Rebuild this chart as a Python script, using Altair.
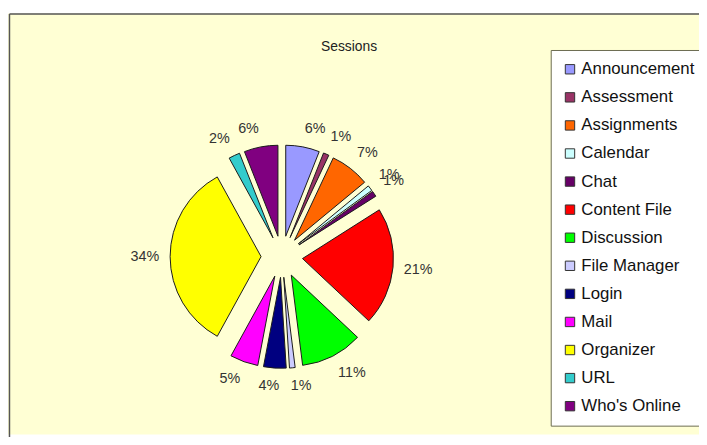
import altair as alt
import pandas as pd

# ---- data ----
categories = ["Announcement", "Assessment", "Assignments", "Calendar", "Chat",
              "Content File", "Discussion", "File Manager", "Login", "Mail",
              "Organizer", "URL", "Who's Online"]
shares = [6, 1, 7, 1, 1, 21, 11, 1, 4, 5, 34, 2, 6]
colors = ["#9999FF", "#993366", "#FF6600", "#CCFFFF", "#660066", "#FF0000",
          "#00FF00", "#CCCCFF", "#000080", "#FF00FF", "#FFFF00", "#33CCCC",
          "#800080"]
title_text = "Sessions"

df = pd.DataFrame({"category": categories, "share": shares,
                   "order": list(range(len(categories)))})

# layout constants (pixels in view coordinates)
CX, CY = 277, 246
R = 92
EXPLODE = 21
LABEL_R = 124
FS = 14.5
FONT = "Liberation Sans"

base = (
    alt.Chart(df)
    .transform_joinaggregate(total="sum(share)")
    .transform_window(cum="sum(share)", sort=[alt.SortField("order")], frame=[None, 0])
    .transform_calculate(
        a0="2*PI*(datum.cum - datum.share)/datum.total",
        a1="2*PI*datum.cum/datum.total",
        pct="format(datum.share/datum.total, '.0%')",
    )
    .transform_calculate(
        mid="(datum.a0 + datum.a1)/2",
        w=f"(length(datum.pct) - 1)*0.556*{FS} + 0.889*{FS}",
    )
    .transform_calculate(
        px=f"{CX} + {EXPLODE}*sin(datum.mid)",
        py=f"{CY} - {EXPLODE}*cos(datum.mid)",
        lx=f"{CX} + {LABEL_R}*sin(datum.mid) + datum.w/2*clamp(sin(datum.mid)*8, -1, 1)",
        ly=f"{CY} - {LABEL_R}*cos(datum.mid) - 7*clamp(cos(datum.mid)*3, -1, 1)",
    )
)

arcs = base.mark_arc(radius=R, stroke="#1a1a1a", strokeWidth=1).encode(
    theta=alt.Theta("a0:Q", scale=None, stack=None),
    theta2="a1:Q",
    x=alt.X("px:Q", scale=None, axis=None),
    y=alt.Y("py:Q", scale=None, axis=None),
    color=alt.Color(
        "category:N",
        scale=alt.Scale(domain=categories, range=colors),
        legend=alt.Legend(
            title=None, orient="none", legendX=549, legendY=37,
            fillColor="white", strokeColor="#6b6b50", padding=11,
            symbolType="square", symbolSize=90, symbolStrokeColor="#333333",
            symbolStrokeWidth=1, labelFont=FONT, labelFontSize=17,
            labelColor="#111111", labelOffset=3, rowPadding=10.4,
            labelLimit=300,
        ),
    ),
)

labels = base.mark_text(font=FONT, fontSize=FS, color="#333333",
                        baseline="middle", align="center").encode(
    x=alt.X("lx:Q", scale=None, axis=None),
    y=alt.Y("ly:Q", scale=None, axis=None),
    text="pct:N",
)

one = pd.DataFrame({"t": [title_text]})
title = alt.Chart(one).mark_text(font=FONT, fontSize=14, color="#222222",
                                 baseline="middle", align="center").encode(
    x=alt.value(345), y=alt.value(34), text="t:N")

left_border = alt.Chart(one).mark_rule(color="#555555", strokeWidth=1.5).encode(
    x=alt.value(1.5), y=alt.value(0.5), y2=alt.value(440))
top_border = alt.Chart(one).mark_rule(color="#555555", strokeWidth=1.5).encode(
    x=alt.value(1.5), x2=alt.value(700), y=alt.value(0.5))

chart = (
    alt.layer(arcs, labels, title, left_border, top_border)
    .properties(width=699, height=426, background="white",
                padding={"left": 0, "top": 3, "right": 0, "bottom": 0},
                autosize=alt.AutoSizeParams(type="none"))
    .configure_view(fill="#FFFFD4", strokeWidth=0)
)

chart.save("out.html", embed_options={"renderer": "svg", "actions": False})
